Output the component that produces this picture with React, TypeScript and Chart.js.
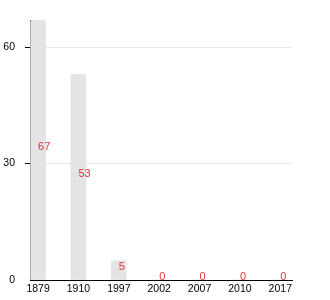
import React, { useEffect, useRef } from "react";
import { Chart, registerables } from "chart.js";

Chart.register(...registerables);

const years = ["1879", "1910", "1997", "2002", "2007", "2010", "2017"];
const values = [67, 53, 5, 0, 0, 0, 0];
const yTicks = [0, 30, 60];
const yMax = 67;

const barLabelPlugin = {
  id: "barLabels",
  afterDatasetsDraw(chart: any) {
    const ctx = chart.ctx;
    const meta = chart.getDatasetMeta(0);
    ctx.save();
    ctx.font = "11px 'Liberation Sans', Arial, sans-serif";
    ctx.fillStyle = "#e5323c";
    ctx.textAlign = "left";
    ctx.textBaseline = "alphabetic";
    meta.data.forEach((bar: any, i: number) => {
      const y = (bar.y + bar.base) / 2;
      ctx.fillText(String(values[i]), bar.x, y);
    });
    ctx.restore();
  },
};

export default function App() {
  const ref = useRef<HTMLCanvasElement | null>(null);
  useEffect(() => {
    if (!ref.current) return;
    const chart = new Chart(ref.current, {
      type: "bar",
      data: {
        datasets: [
          {
            data: values.map((v, i) => ({ x: i, y: v })),
            backgroundColor: "#e4e4e4",
            borderRadius: 2,
            barThickness: 15,
          },
        ],
      },
      options: {
        animation: false,
        responsive: false,
        layout: { padding: { top: 20, right: 38, left: 0, bottom: 0 } },
        plugins: { legend: { display: false }, tooltip: { enabled: false } },
        scales: {
          x: {
            type: "linear",
            offset: false,
            min: -0.2,
            max: 6.29,
            afterBuildTicks: (s: any) => {
              s.ticks = years.map((_, i) => ({ value: i }));
            },
            afterFit: (s: any) => {
              s.height = 20;
            },
            grid: { display: false, drawTicks: false, offset: false },
            border: { display: true, color: "#000", width: 1 },
            ticks: {
              autoSkip: false,
              maxRotation: 0,
              padding: 3,
              color: "#000",
              font: { family: "'Liberation Sans', Arial, sans-serif", size: 10.5 },
              callback: (v: any) => years[v] ?? "",
            },
          },
          y: {
            min: 0,
            max: yMax,
            afterBuildTicks: (s: any) => {
              s.ticks = yTicks.map((v) => ({ value: v }));
            },
            afterFit: (s: any) => {
              s.width = 30;
            },
            grid: {
              color: (c: any) => (c.tick && c.tick.value === 0 ? "rgba(0,0,0,0)" : "#e8e8e8"),
              tickColor: (c: any) => (c.tick && c.tick.value === 0 ? "rgba(0,0,0,0)" : "#000"),
              tickLength: 5,
            },
            border: { display: true, color: "#000", width: 1 },
            ticks: {
              padding: 10,
              color: "#000",
              font: { family: "'Liberation Sans', Arial, sans-serif", size: 10.5 },
            },
          },
        },
      },
      plugins: [barLabelPlugin],
    } as any);
    return () => chart.destroy();
  }, []);
  return (
    <div style={{ position: "absolute", left: 0, top: 0, width: 330, height: 300, background: "#fff" }}>
      <canvas ref={ref} width={330} height={300} />
    </div>
  );
}
